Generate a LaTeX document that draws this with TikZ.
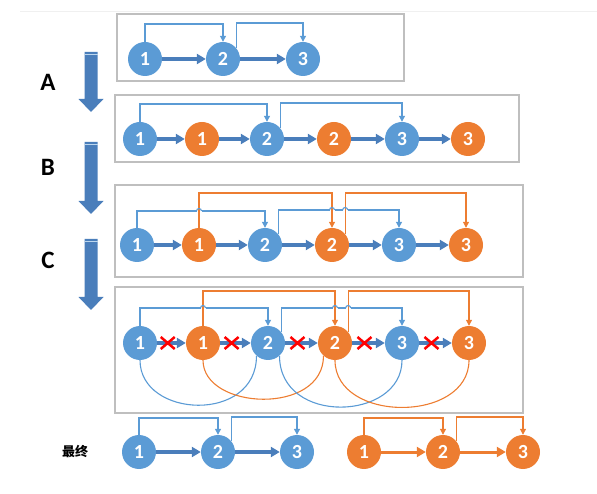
\documentclass[tikz,border=0pt]{standalone}
\usepackage{fontspec}
\setmainfont{Carlito}
\newfontfamily\cjkfont{Noto Sans CJK SC}
\usetikzlibrary{arrows.meta,calc}
\definecolor{nodeblue}{HTML}{5B9BD5}
\definecolor{nodeorange}{HTML}{ED7D31}
\definecolor{arrowblue}{HTML}{4A7EBB}
\definecolor{boxgray}{HTML}{BFBFBF}
\tikzset{
  bnode/.style={circle,fill=nodeblue,minimum size=34pt,inner sep=0pt,text=white,font=\bfseries\fontsize{20}{20}\selectfont},
  onode/.style={bnode,fill=nodeorange},
  nextb/.style={-{Triangle[length=9pt,width=10pt]},line width=3.5pt,draw=arrowblue},
  nexto/.style={-{Triangle[length=9pt,width=10pt]},line width=3pt,draw=nodeorange},
  blink/.style={-{Triangle[length=6pt,width=6pt]},draw=nodeblue,line width=1.1pt},
  olink/.style={blink,draw=nodeorange},
  frame/.style={draw=boxgray,line width=2.5pt},
  cross/.style={draw=red,line width=2.5pt},
  stage/.style={font=\bfseries\fontsize{25}{25}\selectfont},
}
\begin{document}
\begin{tikzpicture}[x=1pt,y=1pt]
\useasboundingbox (0,0) rectangle (597,493);
\draw[gray!12,line width=0.5pt] (20,482)--(597,482);
\foreach \xl/\yt/\xr/\yb in {117/479/404/412, 115/398/519/331, 115/308/523/216, 115/206/523/80} \draw[frame] (\xl,\yt) rectangle (\xr,\yb);
\foreach \top/\tip/\lab/\ly in {441/381/A/411, 351/279/B/326, 254/183/C/233}{
  \fill[arrowblue] (84.5,\top)--(97.5,\top)--(97.5,\tip+13)--(103.5,\tip+13)--(91,\tip)--(78.5,\tip+13)--(84.5,\tip+13)--cycle;
  \draw[white!60!nodeblue,line width=1pt] (84.5,\top-3)--(97.5,\top-3);
  \node[stage] (stage\lab) at (48,\ly) {\lab};}
\node[font=\cjkfont\bfseries\fontsize{13}{13}\selectfont] (final) at (75,41) {最终};
% nodes
\foreach \n/\x in {1/145,2/223,3/303} \node[bnode] (a\n) at (\x,434) {\n};
\foreach \n/\x/\s/\t in {1/140/bnode/1,2/202/onode/1,3/267/bnode/2,4/334/onode/2,5/402/bnode/3,6/468/onode/3} \node[\s] (b\n) at (\x,354) {\t};
\foreach \n/\x/\s/\t in {1/137/bnode/1,2/199/onode/1,3/265/bnode/2,4/332/onode/2,5/399/bnode/3,6/466/onode/3} \node[\s] (c\n) at (\x,248) {\t};
\foreach \n/\x/\s/\t in {1/140/bnode/1,2/203/onode/1,3/268/bnode/2,4/335/onode/2,5/402/bnode/3,6/469/onode/3} \node[\s] (d\n) at (\x,150) {\t};
\foreach \n/\x/\s/\t in {1/139/bnode/1,2/218/bnode/2,3/297/bnode/3,4/364/onode/1,5/443/onode/2,6/523/onode/3} \node[\s] (e\n) at (\x,41) {\t};
% next arrows
\foreach \i/\j in {1/2,2/3} \draw[nextb] (a\i)--(a\j);
\foreach \r in {b,c,d} \foreach \i/\j in {1/2,2/3,3/4,4/5,5/6} \draw[nextb] (\r\i)--(\r\j);
\draw[nextb] (e1)--(e2); \draw[nextb] (e2)--(e3);
\draw[nexto] (e4)--(e5); \draw[nexto] (e5)--(e6);
% skip links
\draw[blink] (a1.north)--(a1.north|-0,469)-|(a2.north);
\draw[blink] (a2.40)--(a2.40|-0,470)-|(a3.north);
\draw[blink] (b1.north)--(b1.north|-0,389)-|(b3.north);
\draw[blink] (b3.40)--(b3.40|-0,390)-|(b5.north);
\draw[blink] (c1.north)--(c1.north|-0,282)-|(c3.north);
\draw[blink] (c3.40)--(c3.40|-0,283)-|(c5.north);
\draw[blink] (d1.north)--(d1.north|-0,185)-|(d3.north);
\draw[blink] (d3.40)--(d3.40|-0,185)-|(d5.north);
\draw[blink] (e1.north)--(e1.north|-0,75)-|(e2.north);
\draw[blink] (e2.40)--(e2.40|-0,76)-|(e3.north);
\foreach \p in {(c2.north|-0,282),(c4.north|-0,283),(c4.40|-0,283),(d2.north|-0,185),(d4.north|-0,185),(d4.40|-0,185)}
  \draw[white,line width=2.2pt] \p ++(-2.5,0)--++(5,0);
\draw[olink] (c2.north)--(c2.north|-0,300)-|(c4.north);
\draw[olink] (c4.40)--(c4.40|-0,300)-|(c6.north);
\draw[olink] (d2.north)--(d2.north|-0,202)-|(d4.north);
\draw[olink] (d4.40)--(d4.40|-0,202)-|(d6.north);
\draw[olink] (e4.north)--(e4.north|-0,75)-|(e5.north);
\draw[olink] (e5.40)--(e5.40|-0,76)-|(e6.north);
\foreach \p in {(c2.north|-0,282),(c4.north|-0,283),(c4.40|-0,283),(d2.north|-0,185),(d4.north|-0,185),(d4.40|-0,185)}
  \draw[nodeblue,line width=1.1pt] \p ++(-2.5,0) arc[start angle=180,end angle=0,radius=2.5pt];
% back links
\draw[nodeblue,line width=1.1pt] (d1.south) .. controls +(0,-58) and +(0,-68) .. (d3.228);
\draw[nodeorange,line width=1.1pt] (d2.south) .. controls +(0,-50) and +(0,-60) .. (d4.228);
\draw[nodeblue,line width=1.1pt] (d3.312) .. controls +(0,-70) and +(0,-61) .. (d5.south);
\draw[nodeorange,line width=1.1pt] (d4.south) .. controls +(0,-63) and +(0,-63) .. (d6.south);
% cut marks
\foreach \i/\j in {1/2,2/3,3/4,4/5,5/6}{
  \coordinate (cut\i) at ($(d\i)!0.44!(d\j)$);
  \draw[cross] ($(cut\i)+(-7,-6)$)--($(cut\i)+(7,6)$) ($(cut\i)+(-7,6)$)--($(cut\i)+(7,-6)$);}
\end{tikzpicture}
\end{document}
